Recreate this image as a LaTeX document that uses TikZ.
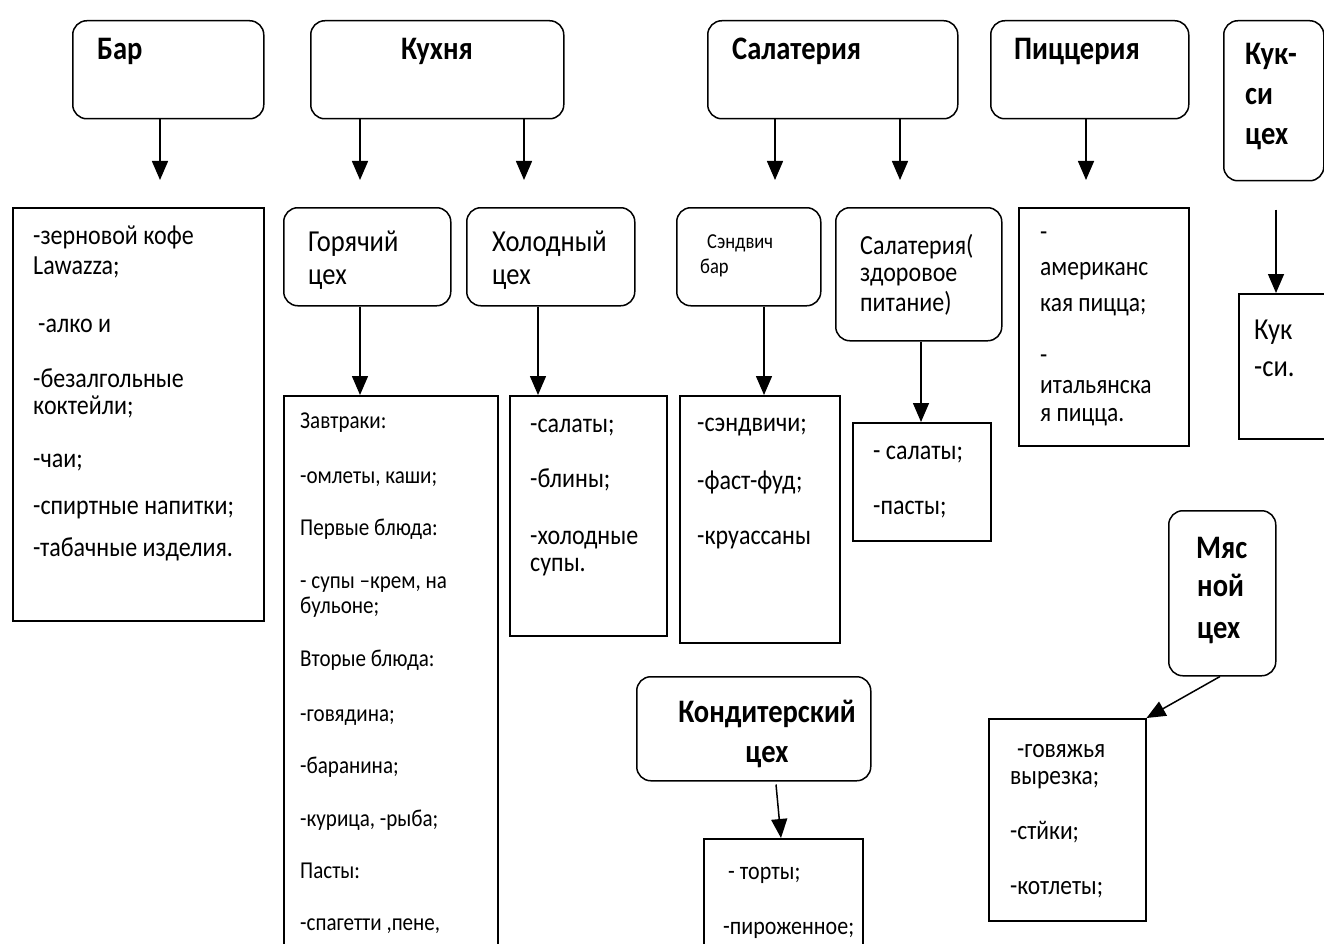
\documentclass[tikz,border=0pt]{standalone}
\usepackage{fontspec}
\setmainfont{Carlito}[FakeStretch=0.87]
\usetikzlibrary{calc,arrows.meta}
\newcommand{\fsz}[1]{\fontsize{#1}{#1}\selectfont}
\begin{document}
\begin{tikzpicture}[x=1pt,y=-1pt,
  rbox/.style={draw,line width=1.5pt,rounded corners=14pt,anchor=north west,inner sep=0pt},
  sbox/.style={draw,line width=1.5pt,anchor=north west,inner sep=0pt},
  arr/.style={line width=1.5pt,-{Triangle[width=16pt,length=19pt]}},
  txt/.style={anchor=base west,inner sep=0pt,font=\fsz{27.6}},
  htxt/.style={anchor=base west,inner sep=0pt,font=\fsz{30.5}},
  stxt/.style={anchor=base west,inner sep=0pt,font=\fsz{24.2}},
  ptxt/.style={anchor=base west,inner sep=0pt,font=\fsz{27}},
  wtxt/.style={anchor=base west,inner sep=0pt,font=\fsz{21.3}},
  ktxt/.style={anchor=base west,inner sep=0pt,font=\fsz{25.3}},
  hd/.style={anchor=base west,inner sep=0pt,font=\fsz{32.8}\bfseries}]
\useasboundingbox[fill=white] (0,0) rectangle (1324,944);
% top row
\node[rbox,minimum width=191pt,minimum height=98pt] (bar) at (72,20) {};
\node[rbox,minimum width=253pt,minimum height=98pt] (kuh) at (310,20) {};
\node[rbox,minimum width=250pt,minimum height=98pt] (sal) at (707,20) {};
\node[rbox,minimum width=198pt,minimum height=98pt] (piz) at (990,20) {};
\node[rbox,minimum width=100pt,minimum height=160pt] (kuk) at (1223,20) {};
% second row
\node[sbox,minimum width=251pt,minimum height=413pt] (bardet) at (12,207) {};
\node[rbox,minimum width=167pt,minimum height=98pt] (hot) at (283,207) {};
\node[rbox,minimum width=168pt,minimum height=98pt] (cold) at (466,207) {};
\node[rbox,minimum width=144pt,minimum height=98pt] (sand) at (676,207) {};
\node[rbox,minimum width=166pt,minimum height=133pt] (salh) at (835,207) {};
\node[sbox,minimum width=170pt,minimum height=238pt] (pizdet) at (1018,207) {};
\node[sbox,minimum width=92pt,minimum height=145pt] (kukdet) at (1238,293) {};
% third row
\node[sbox,minimum width=214pt,minimum height=570pt] (hotdet) at (283,395) {};
\node[sbox,minimum width=157pt,minimum height=240pt] (colddet) at (509,395) {};
\node[sbox,minimum width=160pt,minimum height=247pt] (sanddet) at (679,395) {};
\node[sbox,minimum width=138pt,minimum height=118pt] (saldet) at (852,422) {};
\node[rbox,minimum width=107pt,minimum height=165pt] (meat) at (1168,510) {};
\node[sbox,minimum width=157pt,minimum height=202pt] (meatdet) at (988,718) {};
\node[rbox,minimum width=234pt,minimum height=104pt] (konf) at (636,676) {};
\node[sbox,minimum width=159pt,minimum height=130pt] (konfdet) at (703,838) {};
% arrows
\draw[arr] ($(bar.south west)+(88,0)$) -- ($(bardet.north west)+(148,-27)$);
\draw[arr] ($(kuh.south west)+(50,0)$) -- ($(hot.north west)+(77,-27)$);
\draw[arr] ($(kuh.south west)+(214,0)$) -- ($(cold.north west)+(58,-27)$);
\draw[arr] ($(sal.south west)+(68,0)$) -- ($(sand.north west)+(99,-27)$);
\draw[arr] ($(sal.south west)+(193,0)$) -- ($(salh.north west)+(65,-27)$);
\draw[arr] ($(piz.south west)+(96,0)$) -- ($(pizdet.north west)+(68,-27)$);
\draw[arr] ($(kuk.south west)+(53,28)$) -- ($(kukdet.north west)+(38,0)$);
\draw[arr] ($(hot.south west)+(77,0)$) -- ($(hotdet.north west)+(77,0)$);
\draw[arr] ($(cold.south west)+(72,0)$) -- ($(colddet.north west)+(29,0)$);
\draw[arr] ($(sand.south west)+(88,0)$) -- ($(sanddet.north west)+(85,0)$);
\draw[arr] ($(salh.south west)+(86,0)$) -- ($(saldet.north west)+(69,0)$);
\draw[arr] ($(konf.south west)+(140,3)$) -- ($(konfdet.north west)+(78,0)$);
\draw[arr] ($(meat.south west)+(52,0)$) -- (meatdet.north east);
% headings
\node[hd] (tbar) at (97,60) {Бар};
\node[hd,anchor=base] (tkuh) at (437,60) {Кухня};
\node[hd] (tsal) at (732,60) {Салатерия};
\node[hd] (tpiz) at (1014,60) {Пиццерия};
\node[hd] (tkuk1) at (1245,65) {Кук-};
\node[hd] (tkuk2) at (1245,105) {си};
\node[hd] (tkuk3) at (1245,145) {цех};
\node[hd] (tm1) at (1196,558) {Мяс};
\node[hd] (tm2) at (1197,596) {ной};
\node[hd] (tm3) at (1197,638) {цех};
\node[hd,anchor=base] (tk1) at (767,722) {Кондитерский};
\node[hd,anchor=base] (tk2) at (767,762) {цех};
% bar text
\node[txt] at (33,244) {-зерновой кофе};
\node[txt] at (33,274) {Lawazza;};
\node[txt] at (38,332) {-алко и};
\node[txt] at (33,387) {-безалгольные};
\node[txt] at (33,414) {коктейли;};
\node[txt] at (33,467) {-чаи;};
\node[txt] at (33,514) {-спиртные напитки;};
\node[txt] at (33,556) {-табачные изделия.};
% second row text
\node[htxt] at (308,251) {Горячий};
\node[htxt] at (308,284) {цех};
\node[htxt] at (492,251) {Холодный};
\node[htxt] at (492,284) {цех};
\node[wtxt] at (707,248) {Сэндвич};
\node[wtxt] at (700,273) {бар};
\node[txt] at (860,254) {Салатерия(};
\node[txt] at (860,281) {здоровое};
\node[txt] at (860,311) {питание)};
\node[ptxt] at (1040,240) {-};
\node[ptxt] at (1040,275) {американс};
\node[ptxt] at (1040,311) {кая пицца;};
\node[ptxt] at (1040,363) {-};
\node[ptxt] at (1040,393) {итальянска};
\node[ptxt] at (1040,421) {я пицца.};
\node[htxt] at (1254,339) {Кук};
\node[htxt] at (1254,376) {-си.};
% hot detail
\node[stxt] at (300,428) {Завтраки:};
\node[stxt] at (300,483) {-омлеты, каши;};
\node[stxt] at (300,535) {Первые блюда:};
\node[stxt] at (300,588) {- супы –крем, на};
\node[stxt] at (300,613) {бульоне;};
\node[stxt] at (300,666) {Вторые блюда:};
\node[stxt] at (300,721) {-говядина;};
\node[stxt] at (300,773) {-баранина;};
\node[stxt] at (300,826) {-курица, -рыба;};
\node[stxt] at (300,878) {Пасты:};
\node[stxt] at (300,930) {-спагетти ,пене,};
% cold detail
\node[txt] at (530,432) {-салаты;};
\node[txt] at (530,487) {-блины;};
\node[txt] at (530,544) {-холодные};
\node[txt] at (530,571) {супы.};
% sandwich detail
\node[txt] at (697,431) {-сэндвичи;};
\node[txt] at (697,489) {-фаст-фуд;};
\node[txt] at (697,544) {-круассаны};
% salad detail
\node[txt] at (873,459) {- салаты;};
\node[txt] at (873,514) {-пасты;};
% meat detail
\node[ptxt] at (1017,757) {-говяжья};
\node[ptxt] at (1010,784) {вырезка;};
\node[ptxt] at (1010,839) {-стйки;};
\node[ptxt] at (1010,894) {-котлеты;};
% konf detail
\node[ktxt] at (728,879) {- торты;};
\node[ktxt] at (723,934) {-пироженное;};
\end{tikzpicture}
\end{document}
